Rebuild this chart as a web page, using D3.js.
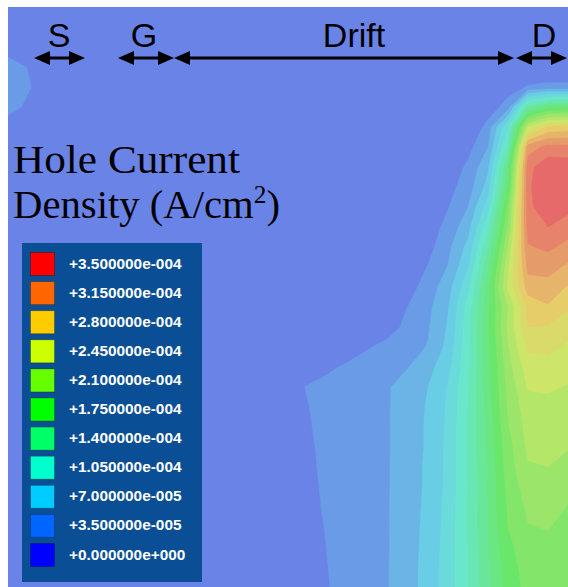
<!DOCTYPE html>
<html>
<head>
<meta charset="utf-8">
<script src="https://cdn.jsdelivr.net/npm/d3@7"></script>
<style>
  html, body { margin: 0; padding: 0; background: #ffffff; }
  svg { display: block; }
</style>
</head>
<body>
<svg id="chart" width="568" height="587"></svg>
<script>
// Hole current density on a 1 µm simulation mesh (29 lateral × 30 depth nodes), in units of 1e-5 A/cm²
const meshCols = 29;
const meshRows = 30;
const holeDensity = [
  [0,0,0,0,0,0,0,0,0,0,0,0,0,0,0,0,0,0,0,0,0,0,0,0,0,0,0,0,0],
  [0,0,0,0,0,0,0,0,0,0,0,0,0,0,0,0,0,0,0,0,0,0,0,0,0,0,0,0,0],
  [0.7,0.44,0,0,0,0,0,0,0,0,0,0,0,0,0,0,0,0,0,0,0,0,0,0,0,0,0,0,0],
  [2.8,1.66,0.18,0,0,0,0,0,0,0,0,0,0,0,0,0,0,0,0,0,0,0,0,0,0,0,0,0,0],
  [2.98,2.01,0.53,0,0,0,0,0,0,0,0,0,0,0,0,0,0,0,0,0,0,0,0,0,0,0.88,1.93,2.28,2.28],
  [2.63,1.31,0,0,0,0,0,0,0,0,0,0,0,0,0,0,0,0,0,0,0,0,0,0,0.61,2.63,12.25,15.23,15.4],
  [0.53,0.18,0,0,0,0,0,0,0,0,0,0,0,0,0,0,0,0,0,0,0,0,0,0,2.45,8.75,22.75,26.6,26.95],
  [0,0,0,0,0,0,0,0,0,0,0,0,0,0,0,0,0,0,0,0,0,0,0,1.14,3.5,10.85,30.63,32.03,32.03],
  [0,0,0,0,0,0,0,0,0,0,0,0,0,0,0,0,0,0,0,0,0,0,0.53,2.1,4.9,14.35,32.7,34.48,34.3],
  [0,0,0,0,0,0,0,0,0,0,0,0,0,0,0,0,0,0,0,0,0,0,1.14,2.63,5.95,15.75,32.8,35.35,34.65],
  [0,0,0,0,0,0,0,0,0,0,0,0,0,0,0,0,0,0,0,0,0,0.18,1.66,3.5,7.88,18.03,32.7,34.65,33.78],
  [0,0,0,0,0,0,0,0,0,0,0,0,0,0,0,0,0,0,0,0,0,0.7,2.36,4.55,9.98,19.25,32.3,33.25,32.38],
  [0,0,0,0,0,0,0,0,0,0,0,0,0,0,0,0,0,0,0,0,0.18,1.14,3.06,5.78,11.9,21,31.33,31.85,30.98],
  [0,0,0,0,0,0,0,0,0,0,0,0,0,0,0,0,0,0,0,0,0.61,1.84,3.59,6.83,13.65,22.4,30.28,30.45,29.4],
  [0,0,0,0,0,0,0,0,0,0,0,0,0,0,0,0,0,0,0,0.18,1.05,2.54,4.55,8.23,14.88,23.1,28.88,29.05,27.83],
  [0,0,0,0,0,0,0,0,0,0,0,0,0,0,0,0,0,0,0,0.61,1.8,3.06,5.16,9.45,15.23,21,26.78,27.83,26.43],
  [0,0,0,0,0,0,0,0,0,0,0,0,0,0,0,0,0,0,0,1.05,2.21,3.33,5.43,9.8,15.4,21.35,26.25,26.08,25.2],
  [0,0,0,0,0,0,0,0,0,0,0,0,0,0,0,0,0.35,0.98,1.63,2.26,2.89,3.59,5.78,9.98,15.23,20.83,24.85,25.03,24.15],
  [0,0,0,0,0,0,0,0,0,0,0,0,0,0,0.53,1.02,1.51,2.0,2.49,2.96,3.45,4.62,6.49,10.12,15.0,20.25,23.71,23.8,23.28],
  [0,0,0,0,0,0,0,0,0,0,0,0,0,0,1.31,1.84,2.19,2.57,2.98,3.38,4.22,5.25,7.14,10.31,15.0,19.69,22.93,22.93,22.66],
  [0,0,0,0,0,0,0,0,0,0,0,0,0,0,1.28,1.72,2.14,2.56,2.98,3.4,4.29,5.43,7.26,10.5,14.75,19.43,22.05,22.4,22.23],
  [0,0,0,0,0,0,0,0,0,0,0,0,0,0,1.23,1.66,2.1,2.52,2.96,3.4,4.32,5.51,7.4,10.68,14.51,19.08,21.7,21.88,21.7],
  [0,0,0,0,0,0,0,0,0,0,0,0,0,0,1.14,1.59,2.05,2.49,2.94,3.4,4.32,5.51,7.4,10.68,14.44,18.55,21.35,21.44,21.09],
  [0,0,0,0,0,0,0,0,0,0,0,0,0,0,1.05,1.54,2.01,2.47,2.94,3.41,4.38,5.6,7.46,10.68,14.23,18.38,20.83,21.0,20.56],
  [0,0,0,0,0,0,0,0,0,0,0,0,0,0,1.05,1.49,1.96,2.45,2.92,3.41,4.38,5.6,7.47,10.5,14.18,18.03,20.21,20.48,19.86],
  [0,0,0,0,0,0,0,0,0,0,0,0,0,0,0.96,1.42,1.93,2.43,2.92,3.43,4.43,5.69,7.63,10.64,14.0,17.75,19.6,19.95,19.16],
  [0,0,0,0,0,0,0,0,0,0,0,0,0,0,0.88,1.33,1.86,2.38,2.91,3.43,4.46,5.78,7.7,10.64,14.0,17.5,19.16,19.34,18.64],
  [0,0,0,0,0,0,0,0,0,0,0,0,0,0,0.79,1.26,1.8,2.35,2.89,3.41,4.5,5.86,7.77,10.5,13.83,17.06,18.55,18.81,18.29],
  [0,0,0,0,0,0,0,0,0,0,0,0,0,0,0.61,1.19,1.75,2.31,2.89,3.45,4.55,5.95,7.82,10.5,13.65,16.68,18.29,18.55,18.03],
  [0,0,0,0,0,0,0,0,0,0,0,0,0,0,0.53,1.1,1.7,2.28,2.85,3.45,4.55,5.95,7.82,10.5,13.48,16.4,18.11,18.38,17.85]
];

// Legend entries (A/cm²), top to bottom
const legendValues = [3.5e-4, 3.15e-4, 2.8e-4, 2.45e-4, 2.1e-4, 1.75e-4, 1.4e-4, 1.05e-4, 7e-5, 3.5e-5, 0];
const legendColors = ["#ff0000", "#ff6600", "#ffcc00", "#ccff00", "#66ff00", "#00ff00",
                      "#00ff66", "#00ffcc", "#00ccff", "#0066ff", "#0000ff"];
const legendLabels = ["+3.500000e-004", "+3.150000e-004", "+2.800000e-004", "+2.450000e-004",
                      "+2.100000e-004", "+1.750000e-004", "+1.400000e-004", "+1.050000e-004",
                      "+7.000000e-005", "+3.500000e-005", "+0.000000e+000"];

// Filled contour levels (A/cm²)
const contourLevels = [1.75e-5, 3.5e-5, 5.25e-5, 7e-5, 8.75e-5, 1.05e-4, 1.225e-4, 1.4e-4, 1.575e-4, 1.75e-4,
                       1.925e-4, 2.1e-4, 2.275e-4, 2.45e-4, 2.625e-4, 2.8e-4, 2.975e-4, 3.15e-4, 3.325e-4, 3.5e-4];

// Device regions along the surface (µm)
const regionNames = ["S", "G", "Drift", "D"];
const regionStart = [1.3, 5.5, 8.3, 25.4];
const regionEnd = [3.85, 8.3, 25.3, 27.95];
const regionLabelAt = [2.55, 6.8, 17.3, 26.8];

const svg = d3.select("#chart");
const plot = { left: 8, top: 7, right: 568, bottom: 587 };

const xScale = d3.scaleLinear().domain([0, meshCols - 1]).range([plot.left, plot.right]);
const yScale = d3.scaleLinear().domain([0, meshRows - 1]).range([plot.top, plot.bottom]);

const colorScale = d3.scaleLinear()
  .domain(legendValues.slice().reverse())
  .range(legendColors.slice().reverse())
  .interpolate(d3.interpolateRgb)
  .clamp(true);
// washed-out rendering of the palette in the field view
const wash = c => d3.interpolateRgb("#cecece", c)(0.486);
const bandColor = k => wash(colorScale(k + 1 < contourLevels.length ? contourLevels[k + 1] : legendValues[0]));

svg.append("rect").attr("width", 568).attr("height", 587).attr("fill", "#ffffff");

svg.append("defs").append("clipPath").attr("id", "plotClip")
  .append("rect")
  .attr("x", plot.left).attr("y", plot.top)
  .attr("width", plot.right - plot.left).attr("height", plot.bottom - plot.top);

const field = svg.append("g").attr("clip-path", "url(#plotClip)");

field.append("rect")
  .attr("x", plot.left).attr("y", plot.top)
  .attr("width", plot.right - plot.left).attr("height", plot.bottom - plot.top)
  .attr("fill", wash(colorScale(contourLevels[0])));

const values = holeDensity.flat().map(v => v * 1e-5);
const contours = d3.contours()
  .size([meshCols, meshRows])
  .smooth(true)
  .thresholds(contourLevels)(values);

// d3.contours places node i at grid coordinate i + 0.5
const meshProjection = d3.geoTransform({
  point(x, y) { this.stream.point(xScale(x - 0.5), yScale(y - 0.5)); }
});
const meshPath = d3.geoPath(meshProjection);

field.selectAll("path.band")
  .data(contours)
  .join("path")
  .attr("class", "band")
  .attr("d", meshPath)
  .attr("fill", (d, i) => bandColor(i))
  .attr("stroke", (d, i) => bandColor(i))
  .attr("stroke-width", 0.4);

// Region markers along the top
const arrowY = 58, headLen = 16, headHalf = 7;
const regions = svg.append("g").attr("class", "regions");
regionNames.forEach((name, i) => {
  const a = xScale(regionStart[i]), b = xScale(regionEnd[i]);
  regions.append("line")
    .attr("x1", a + headLen - 1).attr("x2", b - headLen + 1)
    .attr("y1", arrowY).attr("y2", arrowY)
    .attr("stroke", "#000").attr("stroke-width", 3);
  regions.append("path")
    .attr("d", `M${a},${arrowY} L${a + headLen},${arrowY - headHalf} L${a + headLen},${arrowY + headHalf} Z`)
    .attr("fill", "#000");
  regions.append("path")
    .attr("d", `M${b},${arrowY} L${b - headLen},${arrowY - headHalf} L${b - headLen},${arrowY + headHalf} Z`)
    .attr("fill", "#000");
  regions.append("text")
    .attr("x", xScale(regionLabelAt[i])).attr("y", 47)
    .attr("text-anchor", "middle")
    .attr("font-family", "'Liberation Sans', Arial, sans-serif")
    .attr("font-size", 34)
    .attr("fill", "#000")
    .text(name);
});

// Quantity title
const title = svg.append("g")
  .attr("font-family", "'Liberation Serif', 'Times New Roman', serif")
  .attr("fill", "#000");
title.append("text")
  .attr("x", 13).attr("y", 173)
  .attr("font-size", 40)
  .attr("textLength", 227).attr("lengthAdjust", "spacingAndGlyphs")
  .text("Hole Current");
const t2 = title.append("text")
  .attr("x", 13).attr("y", 218)
  .attr("font-size", 40)
  .attr("textLength", 267).attr("lengthAdjust", "spacingAndGlyphs");
t2.append("tspan").text("Density (A/cm");
t2.append("tspan").attr("font-size", 25).attr("dy", -15).text("2");
t2.append("tspan").attr("dy", 15).text(")");

// Legend
const legend = svg.append("g").attr("class", "legend");
legend.append("rect")
  .attr("x", 22).attr("y", 243).attr("width", 180).attr("height", 339)
  .attr("fill", "#0a4f96");
const rowStep = 29.1;
legend.selectAll("rect.swatch")
  .data(legendColors)
  .join("rect")
  .attr("class", "swatch")
  .attr("x", 30.5).attr("y", (d, i) => 252.5 + i * rowStep)
  .attr("width", 24).attr("height", 23)
  .attr("fill", d => d)
  .attr("stroke", "rgba(0,0,0,0.25)").attr("stroke-width", 1);
legend.selectAll("text.entry")
  .data(legendLabels)
  .join("text")
  .attr("class", "entry")
  .attr("x", 69).attr("y", (d, i) => 268.5 + i * rowStep)
  .attr("font-family", "'Liberation Sans', Arial, sans-serif")
  .attr("font-weight", "bold")
  .attr("font-size", 15.4)
  .attr("fill", "#ffffff")
  .text(d => d);
</script>
</body>
</html>
